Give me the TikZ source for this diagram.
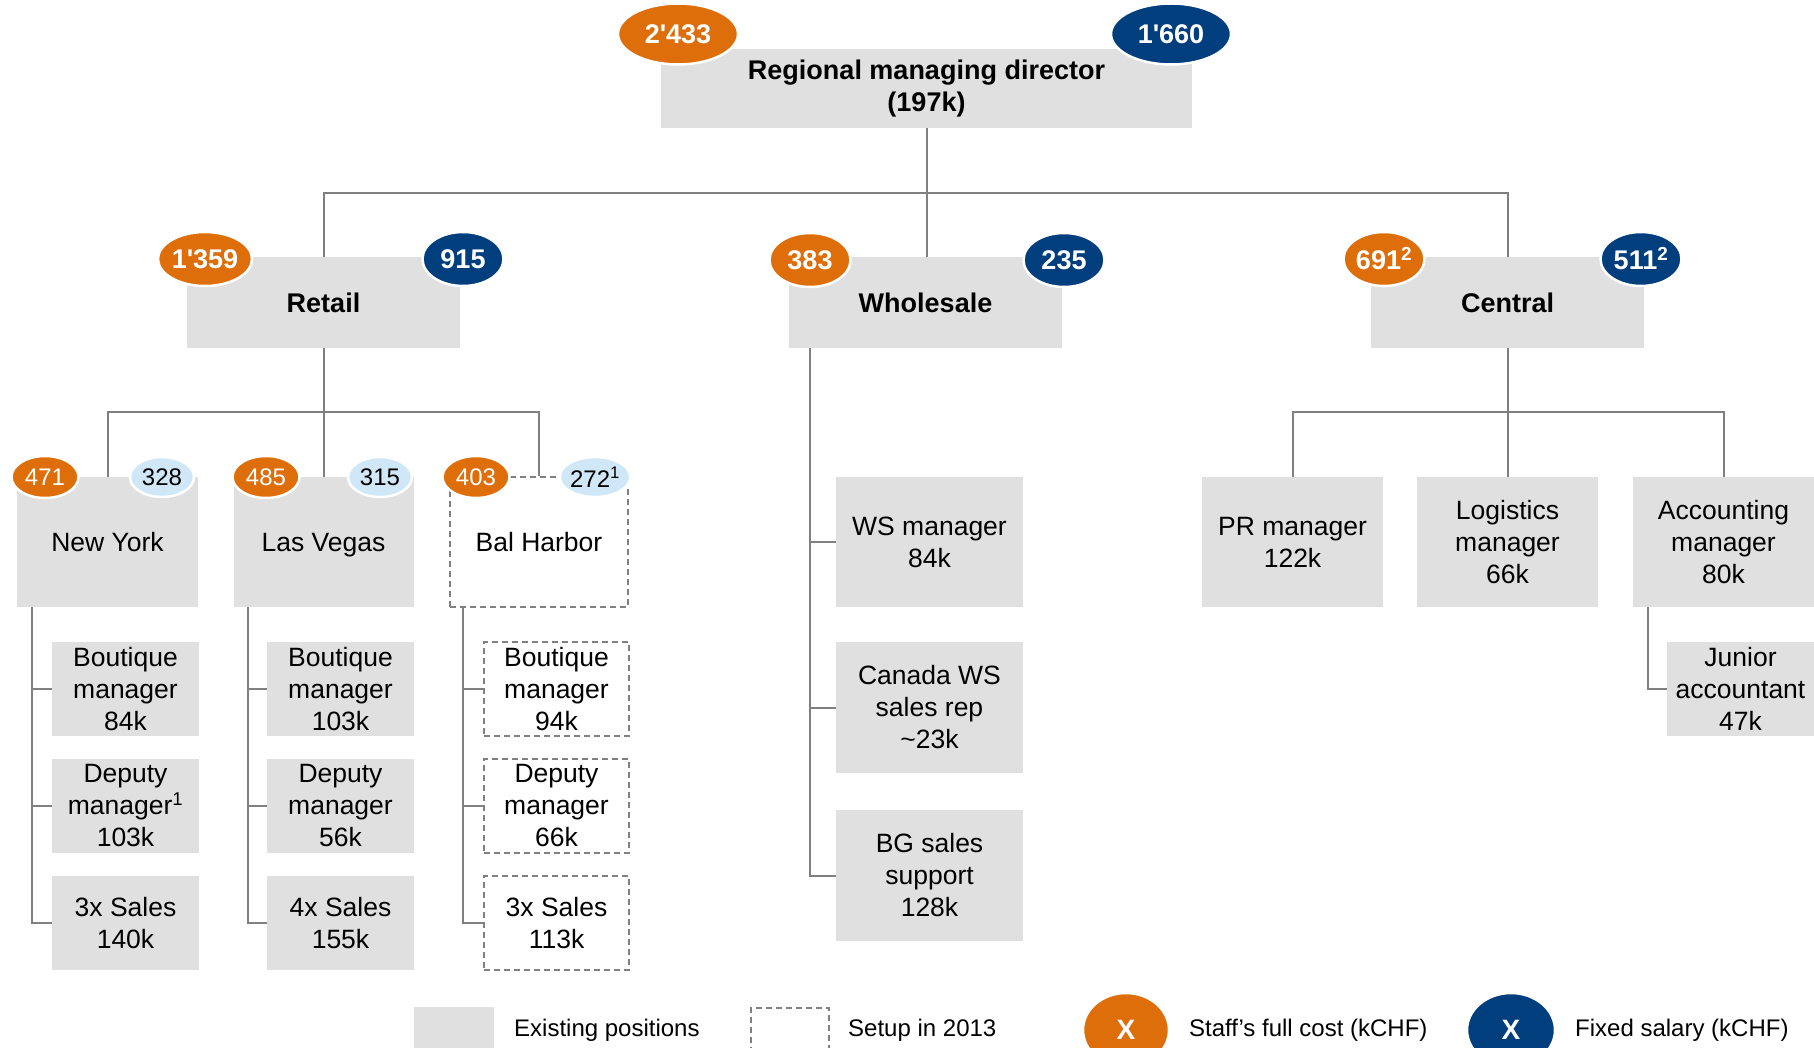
\documentclass[tikz,border=0pt]{standalone}
\usepackage{fontspec}
\setmainfont{Liberation Sans}
\usetikzlibrary{shapes.geometric}
\definecolor{boxgray}{RGB}{224,224,224}
\definecolor{linegray}{RGB}{128,128,128}
\definecolor{orng}{RGB}{222,110,10}
\definecolor{navy}{RGB}{0,62,126}
\definecolor{lblue}{RGB}{207,231,246}
\tikzset{
  posbox/.style={fill=boxgray, draw=none, align=center, inner sep=0pt,
    font=\fontsize{26.5}{32}\selectfont},
  newbox/.style={fill=white, draw=linegray, dash pattern=on 6pt off 4pt,
    line width=1.8pt, align=center, inner sep=0pt,
    font=\fontsize{26.5}{32}\selectfont},
  headbox/.style={posbox, font=\bfseries\fontsize{27}{32}\selectfont},
  conn/.style={draw=linegray, line width=2pt},
  oval/.style={ellipse, inner sep=0pt, draw=white, line width=2.5pt},
  bigoval/.style={oval, minimum width=120pt, minimum height=61pt,
    font=\bfseries\fontsize{27}{32}\selectfont, text=white},
  midoval/.style={oval, minimum width=81pt, minimum height=54pt,
    font=\bfseries\fontsize{27}{32}\selectfont, text=white},
  smoval/.style={oval, minimum width=67pt, minimum height=42pt,
    font=\fontsize{24}{28}\selectfont},
  legtext/.style={anchor=west, inner sep=0pt, font=\fontsize{24}{28}\selectfont},
}
\begin{document}
\begin{tikzpicture}[x=1pt,y=-1pt]
\useasboundingbox[fill=white] (0,0) rectangle (1814,1048);

% ---------- boxes ----------
\node[headbox, minimum width=531pt, minimum height=79pt] (top) at (926.5,88.5)
  {Regional managing director\\(197k)};
\node[headbox, minimum width=273pt, minimum height=91pt] (retail) at (323.5,302.5) {Retail};
\node[headbox, minimum width=273pt, minimum height=91pt] (ws) at (925.5,302.5) {Wholesale};
\node[headbox, minimum width=273pt, minimum height=91pt] (central) at (1507.5,302.5) {Central};

\node[posbox, minimum width=181pt, minimum height=130pt, text depth=0pt] (ny) at (107.5,542) {New York};
\node[posbox, minimum width=180pt, minimum height=130pt, text depth=0pt] (lv) at (323.5,542) {Las Vegas};
\node[newbox, minimum width=178pt, minimum height=130pt, text depth=0pt] (bh) at (539,542) {Bal Harbor};

\node[posbox, minimum width=147pt, minimum height=94pt] (ny1) at (125.5,689) {Boutique\\manager\\84k};
\node[posbox, minimum width=147pt, minimum height=94pt] (ny2) at (125.5,806) {Deputy\\manager\textsuperscript{1}\\103k};
\node[posbox, minimum width=147pt, minimum height=94pt] (ny3) at (125.5,923) {3x Sales\\140k};

\node[posbox, minimum width=147pt, minimum height=94pt] (lv1) at (340.5,689) {Boutique\\manager\\103k};
\node[posbox, minimum width=147pt, minimum height=94pt] (lv2) at (340.5,806) {Deputy\\manager\\56k};
\node[posbox, minimum width=147pt, minimum height=94pt] (lv3) at (340.5,923) {4x Sales\\155k};

\node[newbox, minimum width=145pt, minimum height=94pt] (bh1) at (556.5,689) {Boutique\\manager\\94k};
\node[newbox, minimum width=145pt, minimum height=94pt] (bh2) at (556.5,806) {Deputy\\manager\\66k};
\node[newbox, minimum width=145pt, minimum height=94pt] (bh3) at (556.5,923) {3x Sales\\113k};

\node[posbox, minimum width=187pt, minimum height=130pt] (ws1) at (929.5,542) {WS manager\\84k};
\node[posbox, minimum width=187pt, minimum height=131pt] (ws2) at (929.5,707.5) {Canada WS\\sales rep\\\textasciitilde23k};
\node[posbox, minimum width=187pt, minimum height=131pt] (ws3) at (929.5,875.5) {BG sales\\support\\128k};

\node[posbox, minimum width=181pt, minimum height=130pt] (pr) at (1292.5,542) {PR manager\\122k};
\node[posbox, minimum width=181pt, minimum height=130pt] (log) at (1507.5,542) {Logistics\\manager\\66k};
\node[posbox, minimum width=181pt, minimum height=130pt] (acc) at (1723.5,542) {Accounting\\manager\\80k};
\node[posbox, minimum width=147pt, minimum height=94pt] (jr) at (1740.5,689) {Junior\\accountant\\47k};

% ---------- connectors ----------
\draw[conn] (top.south) -- (top.south |- ws.north);
\draw[conn] (retail.north) -- ++(0,-64) -| (central.north);
\draw[conn] (retail.south) -- (lv.north);
\draw[conn] (ny.north) -- ++(0,-65) -| (bh.north);
\draw[conn] (central.south) -- (log.north);
\draw[conn] (pr.north) -- ++(0,-65) -| (acc.north);

\coordinate (nyl) at ([xshift=15pt]ny.south west);
\draw[conn] (nyl) |- (ny3.west);
\draw[conn] (nyl |- ny1.west) -- (ny1.west);
\draw[conn] (nyl |- ny2.west) -- (ny2.west);

\coordinate (lvl) at ([xshift=15pt]lv.south west);
\draw[conn] (lvl) |- (lv3.west);
\draw[conn] (lvl |- lv1.west) -- (lv1.west);
\draw[conn] (lvl |- lv2.west) -- (lv2.west);

\coordinate (bhl) at ([xshift=14pt]bh.south west);
\draw[conn] (bhl) |- (bh3.west);
\draw[conn] (bhl |- bh1.west) -- (bh1.west);
\draw[conn] (bhl |- bh2.west) -- (bh2.west);

\coordinate (wsl) at ([xshift=21pt]ws.south west);
\draw[conn] (wsl) |- (ws3.west);
\draw[conn] (wsl |- ws1.west) -- (ws1.west);
\draw[conn] (wsl |- ws2.west) -- (ws2.west);

\coordinate (accl) at ([xshift=15pt]acc.south west);
\draw[conn] (accl) |- (jr.west);

% ---------- cost / salary ovals ----------
\node[bigoval, fill=orng] (topc) at (678,34) {2\textquotesingle433};
\node[bigoval, fill=navy] (tops) at (1171,34) {1\textquotesingle660};
\node[midoval, fill=orng] (retc) at (205,259) {1\textquotesingle359};
\node[midoval, fill=navy] (rets) at (463,259) {915};
\node[midoval, fill=orng] (wsc) at (810,260) {383};
\node[midoval, fill=navy] (wss) at (1064,260) {235};
\node[midoval, fill=orng] (cenc) at (1384,259) {691\textsuperscript{2}};
\node[midoval, fill=navy] (cens) at (1641,259) {511\textsuperscript{2}};

\node[smoval, fill=orng, text=white] (nyc) at (45,477) {471};
\node[smoval, fill=lblue, minimum width=64pt, minimum height=40pt] (nys) at (162,477) {328};
\node[smoval, fill=orng, text=white] (lvc) at (266,477) {485};
\node[smoval, fill=lblue, minimum width=64pt, minimum height=40pt] (lvs) at (380,477) {315};
\node[smoval, fill=orng, text=white] (bhc) at (476,477) {403};
\node[smoval, fill=lblue, minimum width=64pt, minimum height=40pt] (bhs) at (595,477) {272\textsuperscript{1}};

% ---------- legend ----------
\node[fill=boxgray, minimum width=80pt, minimum height=55pt, anchor=north west, inner sep=0pt] (legpos) at (414,1007) {};
\node[legtext] (legpost) at (514,1030) {Existing positions};
\node[draw=linegray, dash pattern=on 6pt off 4pt, line width=1.8pt, minimum width=78pt, minimum height=55pt, anchor=north west, inner sep=0pt] (legnew) at (750,1007) {};
\node[legtext] (legnewt) at (848,1030) {Setup in 2013};
\node[oval, fill=orng, text=white, minimum width=86pt, minimum height=74pt, font=\bfseries\fontsize{28}{32}\selectfont] (legc) at (1126,1030) {X};
\node[legtext] (legct) at (1189,1030) {Staff’s full cost (kCHF)};
\node[oval, fill=navy, text=white, minimum width=88pt, minimum height=74pt, font=\bfseries\fontsize{28}{32}\selectfont] (legs) at (1511,1030) {X};
\node[legtext] (legst) at (1575,1030) {Fixed salary (kCHF)};
\end{tikzpicture}
\end{document}
